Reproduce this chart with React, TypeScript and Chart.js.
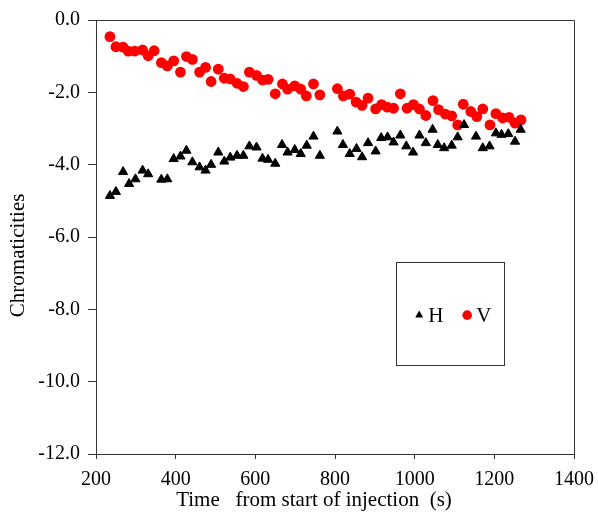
import { useEffect, useRef } from 'react';
import { Chart, registerables } from 'chart.js';

Chart.register(...registerables);

// Series V (red circles)
const timeV = [235, 250, 268, 281, 297, 317, 331, 346, 364, 379, 395, 412, 427, 442, 460, 475, 489, 507, 522, 537, 554, 570, 585, 603, 618, 632, 650, 668, 681, 699, 714, 728, 746, 762, 806, 821, 837, 853, 868, 883, 902, 917, 931, 947, 964, 981, 997, 1012, 1028, 1046, 1060, 1077, 1093, 1108, 1122, 1141, 1156, 1171, 1189, 1204, 1221, 1237, 1252, 1267];
const valuesV = [-0.46, -0.74, -0.75, -0.86, -0.86, -0.83, -0.99, -0.85, -1.18, -1.27, -1.13, -1.44, -1.01, -1.09, -1.44, -1.31, -1.70, -1.36, -1.61, -1.63, -1.75, -1.84, -1.44, -1.53, -1.66, -1.64, -2.04, -1.77, -1.91, -1.82, -1.91, -2.10, -1.77, -2.07, -1.90, -2.10, -2.05, -2.27, -2.36, -2.16, -2.46, -2.34, -2.41, -2.44, -2.04, -2.44, -2.34, -2.46, -2.64, -2.23, -2.48, -2.60, -2.65, -2.90, -2.33, -2.53, -2.67, -2.46, -2.90, -2.59, -2.71, -2.69, -2.85, -2.76];

// Series H (black triangles)
const timeH = [235, 250, 268, 283, 299, 317, 331, 364, 379, 395, 412, 427, 442, 460, 475, 489, 507, 522, 537, 554, 570, 585, 603, 618, 632, 650, 667, 681, 699, 714, 729, 746, 762, 806, 820, 837, 854, 868, 883, 902, 916, 932, 947, 964, 979, 996, 1012, 1028, 1045, 1058, 1074, 1093, 1108, 1124, 1154, 1171, 1188, 1204, 1218, 1235, 1252, 1266];
const valuesH = [-4.86, -4.75, -4.20, -4.53, -4.40, -4.16, -4.26, -4.41, -4.40, -3.84, -3.77, -3.61, -3.93, -4.07, -4.16, -4.00, -3.66, -3.91, -3.80, -3.75, -3.75, -3.49, -3.52, -3.83, -3.86, -3.97, -3.45, -3.66, -3.59, -3.70, -3.47, -3.22, -3.75, -3.08, -3.45, -3.70, -3.56, -3.79, -3.40, -3.63, -3.26, -3.24, -3.38, -3.19, -3.49, -3.66, -3.19, -3.40, -3.03, -3.45, -3.54, -3.47, -3.24, -2.90, -3.22, -3.54, -3.49, -3.13, -3.17, -3.15, -3.36, -3.03];

const seriesNames = ['H', 'V'];
const xRange = [200, 1400];
const xStep = 200;
const yRange = [-12, 0];
const yStep = 2;
const xTitle = 'Time   from start of injection  (s)';
const yTitle = 'Chromaticities';

const FONT = "'Liberation Serif', 'Times New Roman', serif";
const RED = '#ff0000';
const BLACK = '#000000';
const FRAME = '#333333';

export default function App() {
  const ref = useRef<HTMLCanvasElement>(null);

  useEffect(() => {
    document.body.style.margin = '0';
    const canvas = ref.current;
    if (!canvas) return;

    const framePlugin = {
      id: 'frame',
      beforeDatasetsDraw(chart: any) {
        const { ctx, chartArea } = chart;
        const { left, top, right, bottom } = chartArea;
        ctx.save();
        ctx.strokeStyle = FRAME;
        ctx.lineWidth = 1;
        ctx.beginPath();
        ctx.moveTo(Math.round(left) + 0.5, Math.round(top) + 0.5);
        ctx.lineTo(Math.round(right) + 0.5, Math.round(top) + 0.5);
        ctx.lineTo(Math.round(right) + 0.5, Math.round(bottom) + 0.5);
        ctx.stroke();
        ctx.restore();
      },
    };

    const legendPlugin = {
      id: 'boxLegend',
      afterDraw(chart: any) {
        const { ctx, chartArea } = chart;
        const w = chartArea.right - chartArea.left;
        const h = chartArea.bottom - chartArea.top;
        const bx = chartArea.left + 0.628 * w;
        const by = chartArea.top + 0.558 * h;
        const bw = 0.226 * w;
        const bh = 0.237 * h;
        ctx.save();
        ctx.strokeStyle = FRAME;
        ctx.lineWidth = 1;
        ctx.strokeRect(Math.round(bx) + 0.5, Math.round(by) + 0.5, Math.round(bw), Math.round(bh));
        const cy = by + bh * 0.515;
        const tx = bx + 23;
        const r = 4.6;
        ctx.fillStyle = BLACK;
        ctx.beginPath();
        ctx.moveTo(tx, cy - r);
        ctx.lineTo(tx + r * 0.866, cy + r * 0.5);
        ctx.lineTo(tx - r * 0.866, cy + r * 0.5);
        ctx.closePath();
        ctx.fill();
        ctx.font = `21px ${FONT}`;
        ctx.textBaseline = 'middle';
        ctx.textAlign = 'left';
        ctx.fillText(seriesNames[0], bx + 32, cy + 1);
        ctx.fillStyle = RED;
        ctx.beginPath();
        ctx.arc(bx + 71, cy, 4.8, 0, Math.PI * 2);
        ctx.fill();
        ctx.fillStyle = BLACK;
        ctx.fillText(seriesNames[1], bx + 80, cy + 1);
        ctx.restore();
      },
    };

    const chart = new Chart(canvas, {
      type: 'scatter',
      data: {
        datasets: [
          {
            label: seriesNames[0],
            data: timeH.map((t, i) => ({ x: t, y: valuesH[i] })),
            pointStyle: 'triangle',
            pointRadius: 5.3,
            pointBackgroundColor: BLACK,
            pointBorderColor: BLACK,
            pointBorderWidth: 1,
          },
          {
            label: seriesNames[1],
            data: timeV.map((t, i) => ({ x: t, y: valuesV[i] })),
            pointStyle: 'circle',
            pointRadius: 5.4,
            pointBackgroundColor: RED,
            pointBorderColor: RED,
            pointBorderWidth: 0,
          },
        ],
      },
      options: {
        responsive: false,
        animation: false,
        devicePixelRatio: 1,
        layout: { padding: { top: 20, right: 24, left: 0, bottom: 0 } },
        plugins: {
          legend: { display: false },
          tooltip: { enabled: false },
        },
        scales: {
          x: {
            type: 'linear',
            min: xRange[0],
            max: xRange[1],
            afterFit(scale: any) {
              scale.height = 61;
              scale.paddingLeft = 0;
              scale.paddingRight = 0;
            },
            ticks: {
              stepSize: xStep,
              color: BLACK,
              font: { family: FONT, size: 20 },
              padding: 9,
              maxRotation: 0,
              callback: (v: any) => String(v),
            },
            grid: {
              drawOnChartArea: false,
              drawTicks: true,
              tickLength: 5,
              color: FRAME,
            },
            border: { display: true, color: FRAME, width: 1 },
            title: {
              display: true,
              text: xTitle + '\u00a0'.repeat(8),
              color: BLACK,
              font: { family: FONT, size: 21 },
              padding: { top: 0, bottom: 2 },
            },
          },
          y: {
            type: 'linear',
            min: yRange[0],
            max: yRange[1],
            afterFit(scale: any) {
              scale.width = 96;
              scale.paddingTop = 0;
              scale.paddingBottom = 0;
            },
            ticks: {
              stepSize: yStep,
              color: BLACK,
              font: { family: FONT, size: 20 },
              padding: 8,
              callback: (v: any) => Number(v).toFixed(1),
            },
            grid: {
              drawOnChartArea: false,
              drawTicks: true,
              tickLength: 8,
              color: FRAME,
            },
            border: { display: true, color: FRAME, width: 1 },
            title: {
              display: true,
              text: yTitle + '\u00a0'.repeat(7),
              color: BLACK,
              font: { family: FONT, size: 21 },
              padding: { top: 6, bottom: 0 },
            },
          },
        },
      },
      plugins: [framePlugin, legendPlugin],
    });

    return () => {
      chart.destroy();
    };
  }, []);

  return <canvas ref={ref} width={598} height={515} style={{ display: 'block' }} />;
}
